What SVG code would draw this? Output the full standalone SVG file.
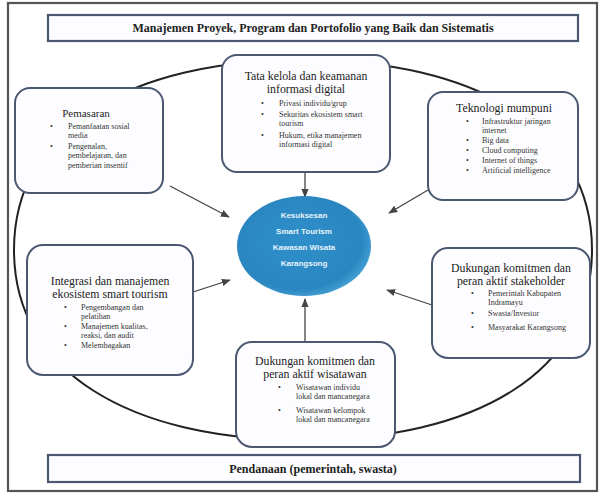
<svg xmlns="http://www.w3.org/2000/svg" width="602" height="498" viewBox="0 0 602 498">
<defs>
<style>
.box{fill:#fdfdff;stroke:#4b5872;stroke-width:2}
.band{fill:#fdfdff;stroke:#4b5872;stroke-width:2.2}
.ttl{font-family:"Liberation Serif",serif;font-size:11.8px;fill:#222;text-anchor:middle}
.bl{font-family:"Liberation Serif",serif;font-size:8px;fill:#333}
.hd{font-family:"Liberation Serif",serif;font-size:12px;font-weight:bold;fill:#222;text-anchor:middle}
.ct{font-family:"Liberation Sans",sans-serif;font-size:8px;font-weight:bold;fill:#e8f4fb;text-anchor:middle}
.ar{stroke:#444;stroke-width:1.3;fill:none;marker-end:url(#ah)}
</style>
<marker id="ah" viewBox="0 0 10 10" refX="9" refY="5" markerWidth="7" markerHeight="7" orient="auto-start-reverse">
<path d="M0,1 L10,5 L0,9 Z" fill="#444"/>
</marker>
<radialGradient id="cg" cx="0.45" cy="0.45" r="0.6">
<stop offset="0" stop-color="#2f8fca"/>
<stop offset="0.8" stop-color="#2a86c0"/>
<stop offset="1" stop-color="#4aa6d8"/>
</radialGradient>
</defs>
<rect x="0" y="0" width="602" height="498" fill="#ffffff"/>
<rect x="8" y="3" width="589" height="488" fill="#ffffff" stroke="#555" stroke-width="2.2"/>

<g id="title">
<rect class="band" x="48" y="15" width="530" height="26"/>
<text class="hd" x="313" y="32">Manajemen Proyek, Program dan Portofolio yang Baik dan Sistematis</text>
</g>

<g id="connectors">
<path d="M14,250 C14,128 130,60 303,60 C476,60 592,128 592,250 C592,372 476,440 303,440 C130,440 14,372 14,250 Z" fill="none" stroke="#222" stroke-width="2"/>
<line class="ar" x1="305" y1="172" x2="305" y2="197"/>
<line class="ar" x1="170" y1="186" x2="229" y2="217"/>
<line class="ar" x1="428" y1="190" x2="389" y2="213"/>
<line class="ar" x1="193" y1="292" x2="230" y2="280"/>
<line class="ar" x1="432" y1="305" x2="387" y2="290"/>
<line class="ar" x1="305" y1="342" x2="305" y2="299"/>
</g>

<g id="tata-kelola">
<rect class="box" x="222" y="55" width="168" height="117" rx="15"/>
<text class="ttl" x="306" y="80">Tata kelola dan keamanan</text>
<text class="ttl" x="306" y="93">informasi digital</text>
<text class="bl" x="261" y="106">•</text><text class="bl" x="279" y="106">Privasi individu/grup</text>
<text class="bl" x="261" y="117">•</text><text class="bl" x="279" y="117">Sekuritas ekosistem smart</text>
<text class="bl" x="279" y="126">tourism</text>
<text class="bl" x="261" y="138">•</text><text class="bl" x="279" y="138">Hukum, etika manajemen</text>
<text class="bl" x="279" y="147">informasi digital</text>
</g>

<g id="pemasaran">
<rect class="box" x="15" y="88" width="148" height="105" rx="15"/>
<text class="ttl" x="86" y="117" style="font-size:11px">Pemasaran</text>
<text class="bl" x="50" y="129">•</text><text class="bl" x="68" y="129">Pemanfaatan sosial</text>
<text class="bl" x="68" y="138">media</text>
<text class="bl" x="50" y="149">•</text><text class="bl" x="68" y="149">Pengenalan,</text>
<text class="bl" x="68" y="158">pembelajaran, dan</text>
<text class="bl" x="68" y="168">pemberian insentif</text>
</g>

<g id="teknologi">
<rect class="box" x="428" y="92" width="150" height="108" rx="15"/>
<text class="ttl" x="504" y="112">Teknologi mumpuni</text>
<text class="bl" x="466" y="124">•</text><text class="bl" x="482" y="124">Infrastruktur jaringan</text>
<text class="bl" x="482" y="133">internet</text>
<text class="bl" x="466" y="143">•</text><text class="bl" x="482" y="143">Big data</text>
<text class="bl" x="466" y="153">•</text><text class="bl" x="482" y="153">Cloud computing</text>
<text class="bl" x="466" y="163">•</text><text class="bl" x="482" y="163">Internet of things</text>
<text class="bl" x="466" y="173">•</text><text class="bl" x="482" y="173">Artificial intelligence</text>
</g>

<g id="integrasi">
<rect class="box" x="27" y="245" width="166" height="130" rx="16"/>
<text class="ttl" x="110" y="285">Integrasi dan manajemen</text>
<text class="ttl" x="110" y="298">ekosistem smart tourism</text>
<text class="bl" x="64" y="310">•</text><text class="bl" x="81" y="310">Pengembangan dan</text>
<text class="bl" x="81" y="319">pelatihan</text>
<text class="bl" x="64" y="329">•</text><text class="bl" x="81" y="329">Manajemen kualitas,</text>
<text class="bl" x="81" y="338">reaksi, dan audit</text>
<text class="bl" x="64" y="348">•</text><text class="bl" x="81" y="348">Melembagakan</text>
</g>

<g id="stakeholder">
<rect class="box" x="432" y="248" width="158" height="110" rx="16"/>
<text class="ttl" x="511" y="272">Dukungan komitmen dan</text>
<text class="ttl" x="511" y="285">peran aktif stakeholder</text>
<text class="bl" x="471" y="296">•</text><text class="bl" x="488" y="296">Pemerintah Kabupaten</text>
<text class="bl" x="488" y="305">Indramayu</text>
<text class="bl" x="471" y="316">•</text><text class="bl" x="488" y="316">Swasta/Investor</text>
<text class="bl" x="471" y="330">•</text><text class="bl" x="488" y="330">Masyarakat Karangsong</text>
</g>

<g id="wisatawan">
<rect class="box" x="236" y="342" width="159" height="105" rx="16"/>
<text class="ttl" x="315" y="365">Dukungan komitmen dan</text>
<text class="ttl" x="315" y="378">peran aktif wisatawan</text>
<text class="bl" x="278" y="390">•</text><text class="bl" x="296" y="390">Wisatawan individu</text>
<text class="bl" x="296" y="399">lokal dan mancanegara</text>
<text class="bl" x="278" y="413">•</text><text class="bl" x="296" y="413">Wisatawan kelompok</text>
<text class="bl" x="296" y="422">lokal dan mancanegara</text>
</g>

<g id="center">
<ellipse cx="304" cy="246" rx="67" ry="50" fill="url(#cg)"/>
<text class="ct" x="304" y="218">Kesuksesan</text>
<text class="ct" x="304" y="234">Smart Tourism</text>
<text class="ct" x="304" y="250">Kawasan Wisata</text>
<text class="ct" x="304" y="266">Karangsong</text>
</g>

<g id="pendanaan">
<rect class="band" x="48" y="455" width="532" height="27"/>
<text class="hd" x="313" y="473">Pendanaan (pemerintah, swasta)</text>
</g>
</svg>
